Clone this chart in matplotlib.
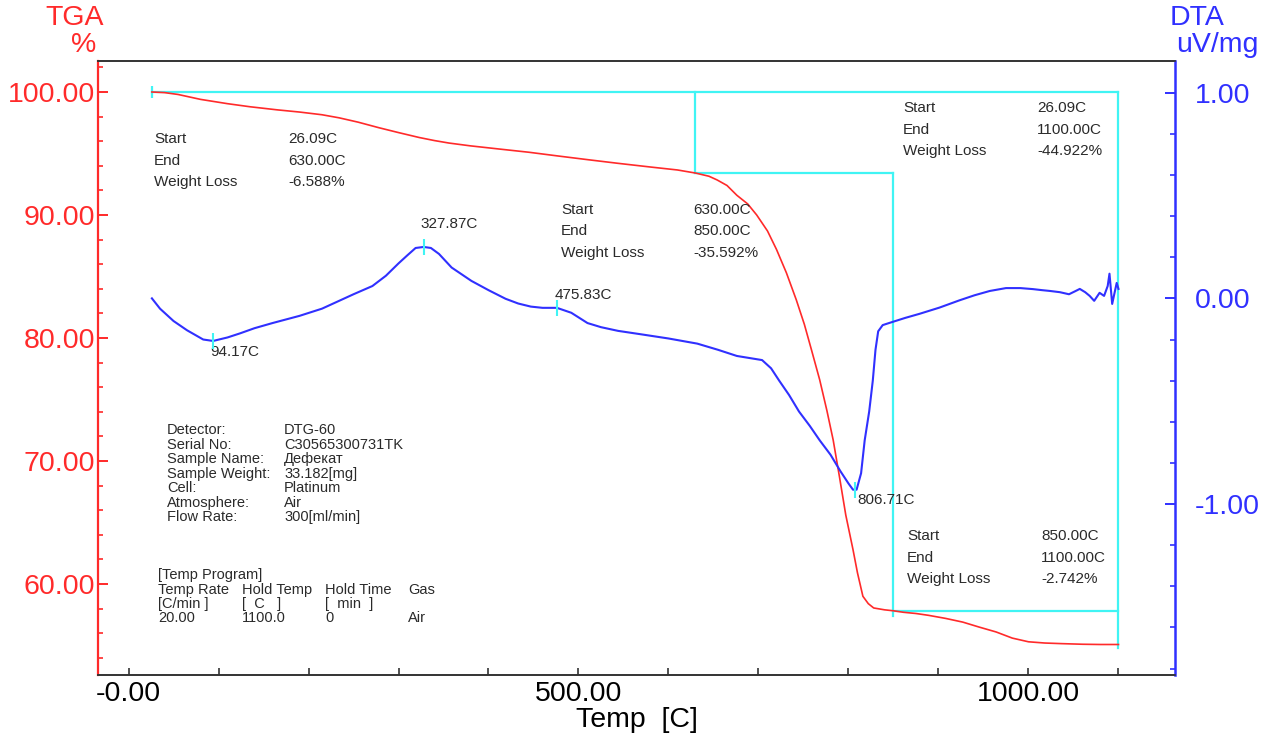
import numpy as np
import matplotlib
matplotlib.use("Agg")
import matplotlib.pyplot as plt
from matplotlib.ticker import MultipleLocator, FixedLocator, FormatStrFormatter

plt.rcParams["font.family"] = ["Liberation Sans", "DejaVu Sans"]

# ---- data ----
tga_temp = [26, 40, 55, 80, 110, 135, 165, 190, 215, 234, 255, 278, 300, 323, 340, 356, 380,
            411, 445, 477, 510, 544, 580, 610, 630, 645, 654, 665, 676, 688, 698, 710, 720,
            731, 742, 751, 759, 768, 776, 783, 790, 797, 805, 810, 816, 822, 828, 840, 850,
            861, 875, 889, 908, 927, 945, 964, 982, 1000, 1018, 1037, 1060, 1080, 1100]
tga_val = [100.0, 99.95, 99.8, 99.4, 99.05, 98.8, 98.55, 98.37, 98.15, 97.9, 97.55, 97.1, 96.7,
           96.3, 96.05, 95.85, 95.62, 95.37, 95.1, 94.8, 94.5, 94.2, 93.9, 93.66, 93.41, 93.15,
           92.85, 92.4, 91.6, 90.9, 90.0, 88.7, 87.2, 85.3, 83.1, 81.1, 79.0, 76.6, 74.1, 71.7,
           68.7, 65.6, 62.8, 60.9, 59.0, 58.4, 58.05, 57.9, 57.82, 57.7, 57.6, 57.45, 57.2,
           56.9, 56.5, 56.1, 55.6, 55.3, 55.2, 55.15, 55.1, 55.08, 55.08]

dta_temp = [26, 35, 50, 65, 83, 94, 110, 124, 140, 160, 190, 215, 234, 250, 271, 286, 300, 310,
            319, 328, 336, 345, 359, 381, 400, 419, 433, 447, 460, 476, 492, 510, 525, 544, 570,
            600, 632, 655, 676, 704, 714, 723, 734, 745, 757, 768, 780, 791, 800, 805, 809, 814,
            818, 823, 827, 830, 833, 838, 845, 863, 879, 901, 923, 940, 957, 975, 991, 1005,
            1015, 1024, 1035, 1045, 1052, 1057, 1063, 1068, 1073, 1079, 1084, 1088, 1090, 1093,
            1098, 1100]
dta_val = [0.0, -0.05, -0.11, -0.155, -0.20, -0.207, -0.19, -0.17, -0.145, -0.12, -0.085, -0.05,
           -0.012, 0.02, 0.06, 0.11, 0.17, 0.21, 0.245, 0.25, 0.245, 0.216, 0.15, 0.085, 0.04,
           -0.002, -0.025, -0.04, -0.046, -0.046, -0.07, -0.12, -0.14, -0.158, -0.175, -0.195,
           -0.22, -0.25, -0.28, -0.30, -0.34, -0.40, -0.47, -0.55, -0.62, -0.69, -0.76, -0.84,
           -0.90, -0.93, -0.93, -0.85, -0.69, -0.55, -0.40, -0.25, -0.16, -0.13, -0.12, -0.095,
           -0.075, -0.045, -0.01, 0.015, 0.036, 0.05, 0.05, 0.045, 0.04, 0.036, 0.03, 0.02,
           0.035, 0.046, 0.03, 0.012, -0.012, 0.027, 0.012, 0.06, 0.12, -0.027, 0.075, 0.046]

# weight-loss steps (start, end) and plateau levels
step_bounds = [26.09, 630.00, 850.00, 1100.00]
step_levels = [100.0, 93.412, 57.820, 55.078]
step_text = [("26.09C", "630.00C", "-6.588%"),
             ("630.00C", "850.00C", "-35.592%"),
             ("26.09C", "1100.00C", "-44.922%"),
             ("850.00C", "1100.00C", "-2.742%")]

peak_temp = [94.17, 327.87, 475.83, 806.71]
peak_dta = [-0.207, 0.25, -0.046, -0.93]
peak_labels = ["94.17C", "327.87C", "475.83C", "806.71C"]

x_ticks = [0, 500, 1000]
x_ticklabels = ["-0.00", "500.00", "1000.00"]

info_keys = ["Detector:", "Serial No:", "Sample Name:", "Sample Weight:", "Cell:",
             "Atmosphere:", "Flow Rate:"]
info_vals = ["DTG-60", "C30565300731TK", "Дефекат", "33.182[mg]", "Platinum", "Air",
             "300[ml/min]"]
prog_rows = [["Temp Rate", "Hold Temp", "Hold Time", "Gas"],
             ["[C/min ]", "[  C   ]", "[  min  ]", ""],
             ["20.00", "1100.0", "0", "Air"]]

RED = "#ff2a2a"
BLUE = "#3030ff"
CYAN = "#40f4f4"
TXT = "#2a2a2a"
BIG = 20.5
SMALL = 11

fig = plt.figure(figsize=(12.7, 7.36), dpi=100)
ax = fig.add_axes([98 / 1270, 1 - 675 / 736, 1077 / 1270, 614 / 736])
ax2 = ax.twinx()

ax.set_xlim(-33.9, 1162.8)
ax.set_ylim(52.6, 102.52)
ax2.set_ylim(-1.831, 1.154)

# curves
ax.plot(tga_temp, tga_val, color=RED, lw=1.2, zorder=3)
ax2.plot(dta_temp, dta_val, color=BLUE, lw=1.5, zorder=3)

# cyan step construction lines
ax.plot([step_bounds[0], step_bounds[3]], [step_levels[0]] * 2, color=CYAN, lw=1.6, zorder=2)
ax.plot([step_bounds[1]] * 2, [step_levels[0], step_levels[1]], color=CYAN, lw=1.6, zorder=2)
ax.plot([step_bounds[1], step_bounds[2]], [step_levels[1]] * 2, color=CYAN, lw=1.6, zorder=2)
ax.plot([step_bounds[2]] * 2, [step_levels[1], step_levels[2] - 0.4], color=CYAN, lw=1.6, zorder=2)
ax.plot([step_bounds[2], step_bounds[3]], [step_levels[2]] * 2, color=CYAN, lw=1.6, zorder=2)
ax.plot([step_bounds[3]] * 2, [step_levels[0], step_levels[3] - 0.3], color=CYAN, lw=1.6, zorder=2)
ax.plot([step_bounds[0]], [step_levels[0]], marker="|", ms=9, mew=1.6, color=CYAN, zorder=2)
ax2.plot(peak_temp, peak_dta, ls="none", marker="|", ms=11, mew=1.5, color=CYAN, zorder=4)

# step annotation blocks (label x, value x, first row y) in TGA data coords
blocks = [(28.3, 177.2, 96.18), (480.6, 627.2, 90.41), (860.6, 1009.4, 98.70), (865.0, 1014.0, 63.90)]
for (xl, xv, y0), vals in zip(blocks, step_text):
    for i, (lab, v) in enumerate(zip(["Start", "End", "Weight Loss"], vals)):
        ax.text(xl, y0 - i * 1.75, lab, fontsize=SMALL, color=TXT, va="center", ha="left")
        ax.text(xv, y0 - i * 1.75, v, fontsize=SMALL, color=TXT, va="center", ha="left")

peak_pos = [(90.6, 78.86), (323.9, 89.27), (473.9, 83.5), (809.4, 66.83)]
for (px, py), lab in zip(peak_pos, peak_labels):
    ax.text(px, py, lab, fontsize=SMALL, color=TXT, va="center", ha="left")

for i, (k, v) in enumerate(zip(info_keys, info_vals)):
    y = 72.52 - i * 1.18
    ax.text(42.8, y, k, fontsize=10.5, color=TXT, va="center", ha="left")
    ax.text(172.8, y, v, fontsize=10.5, color=TXT, va="center", ha="left")

ax.text(32.8, 60.73, "[Temp Program]", fontsize=10.5, color=TXT, va="center", ha="left")
for r, row in enumerate(prog_rows):
    y = 59.51 - r * 1.14
    for x, s in zip([32.8, 126.1, 218.3, 310.6], row):
        ax.text(x, y, s, fontsize=10.5, color=TXT, va="center", ha="left")

# axes styling
ax.spines["left"].set_color(RED)
ax.spines["left"].set_linewidth(1.6)
ax2.spines["right"].set_color(BLUE)
ax2.spines["right"].set_linewidth(1.8)
for a in (ax, ax2):
    a.spines["top"].set_color("#333333")
    a.spines["bottom"].set_color("#333333")
    a.spines["top"].set_linewidth(1.2)
    a.spines["bottom"].set_linewidth(1.2)
ax2.spines["left"].set_visible(False)
ax.spines["right"].set_visible(False)

ax.xaxis.set_major_locator(FixedLocator(x_ticks))
ax.set_xticklabels(x_ticklabels)
ax.xaxis.set_minor_locator(MultipleLocator(100))
ax.tick_params(axis="x", which="both", direction="in", length=5, width=1.2, color="#333333",
               labelsize=BIG, pad=4, labelcolor="black")
ax.set_xlabel("Temp  [C]", fontsize=BIG, labelpad=0)

ax.yaxis.set_major_locator(MultipleLocator(10))
ax.yaxis.set_minor_locator(MultipleLocator(2))
ax.yaxis.set_major_formatter(FormatStrFormatter("%.2f"))
ax.tick_params(axis="y", which="major", direction="in", length=7, width=1.4, color=RED,
               labelcolor=RED, labelsize=BIG, pad=2)
ax.tick_params(axis="y", which="minor", direction="in", length=3.5, width=1.2, color=RED)

ax2.yaxis.set_major_locator(MultipleLocator(1))
ax2.yaxis.set_minor_locator(MultipleLocator(0.2))
ax2.yaxis.set_major_formatter(FormatStrFormatter("%.2f"))
ax2.tick_params(axis="y", which="major", direction="in", length=7, width=1.4, color=BLUE,
                labelcolor=BLUE, labelsize=BIG, pad=14)
ax2.tick_params(axis="y", which="minor", direction="in", length=3.5, width=1.2, color=BLUE)

fig.text(75 / 1270, 1 - 18 / 736, "TGA", fontsize=BIG, color=RED, ha="center", va="center")
fig.text(84 / 1270, 1 - 45 / 736, "%", fontsize=BIG, color=RED, ha="center", va="center")
fig.text(1197 / 1270, 1 - 18 / 736, "DTA", fontsize=BIG, color=BLUE, ha="center", va="center")
fig.text(1217 / 1270, 1 - 45 / 736, "uV/mg", fontsize=BIG, color=BLUE, ha="center", va="center")

fig.savefig("out.png", dpi=100)
